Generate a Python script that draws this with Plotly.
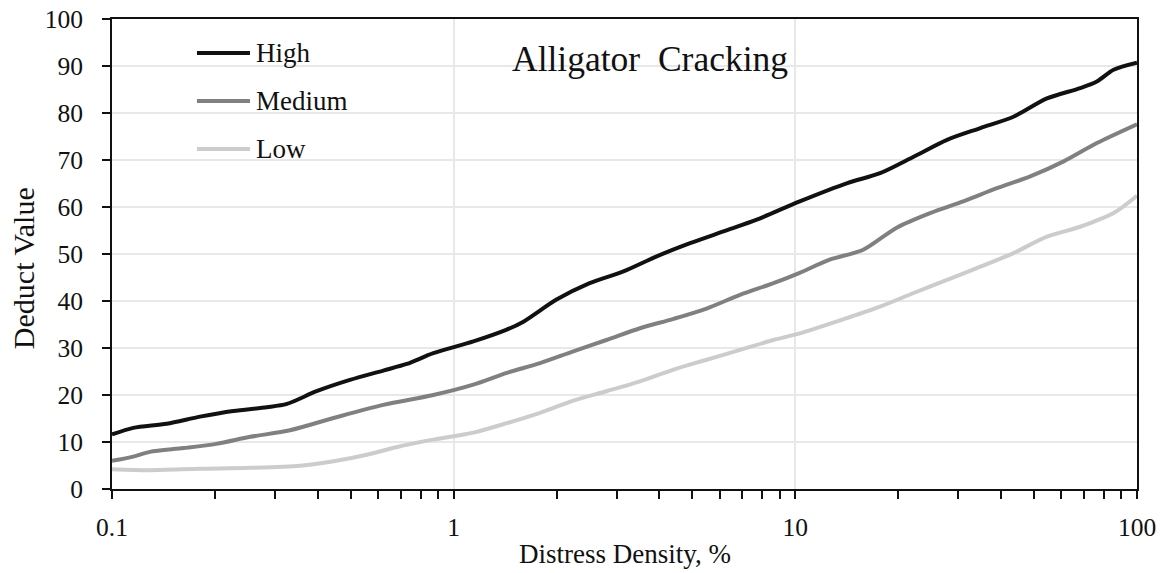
import plotly.graph_objects as go

# Distress density (%) and deduct values for each severity level
high_x = [0.1, 0.1154, 0.1446, 0.181, 0.2265, 0.284, 0.325, 0.397, 0.497, 0.622, 0.729, 0.872,
          1.142, 1.43, 1.6, 2.0, 2.5, 3.14, 3.93, 4.92, 6.16, 7.71, 10.3, 14.2,
          17.7, 22.2, 27.8, 34.8, 43.5, 54.5, 68.2, 76.3, 85.4, 100]
high_y = [11.6, 13.0, 13.9, 15.4, 16.6, 17.4, 18.1, 20.8, 23.2, 25.2, 26.6, 28.9,
          31.4, 33.9, 35.6, 40.3, 43.8, 46.3, 49.5, 52.3, 54.8, 57.3, 61.2, 65.1,
          67.2, 70.7, 74.3, 76.8, 79.2, 83.1, 85.3, 86.7, 89.2, 90.7]

medium_x = [0.1, 0.1154, 0.129, 0.162, 0.202, 0.254, 0.332, 0.445, 0.622, 0.872,
            1.142, 1.43, 1.79, 2.24, 2.8, 3.51, 4.4, 5.5, 6.89, 8.63, 10.3, 12.6, 15.8,
            19.8, 24.8, 31.0, 38.9, 48.7, 61.0, 76.3, 100]
medium_y = [6.0, 6.9, 7.9, 8.7, 9.6, 11.1, 12.5, 15.1, 17.9, 20.0,
            22.2, 24.7, 26.8, 29.3, 31.7, 34.2, 36.2, 38.4, 41.3, 43.8, 46.0, 48.8, 50.9,
            55.6, 58.7, 61.2, 64.0, 66.5, 69.7, 73.6, 77.6]

low_x = [0.1, 0.129, 0.181, 0.254, 0.355, 0.445, 0.557, 0.697, 0.872, 1.142, 1.43,
         1.79, 2.24, 2.8, 3.51, 4.4, 5.5, 6.89, 8.63, 10.3, 14.2, 17.7, 22.2, 27.8,
         34.8, 43.5, 54.5, 68.2, 85.4, 100]
low_y = [4.2, 4.0, 4.3, 4.5, 4.95, 5.9, 7.3, 9.1, 10.5, 12.0, 14.0,
         16.2, 18.8, 20.8, 22.9, 25.4, 27.5, 29.6, 31.7, 33.1, 36.4, 38.8, 41.7, 44.5,
         47.3, 50.2, 53.7, 55.8, 58.7, 62.4]

series_names = ["High", "Medium", "Low"]
series_colors = ["#111111", "#808080", "#cccccc"]

x_major = [0.1, 1, 10, 100]
x_major_text = ["0.1", "1", "10", "100"]
x_minor = [m * d for d in (0.1, 1, 10) for m in range(2, 10)]
y_ticks = list(range(0, 101, 10))

FONT = "Liberation Serif, Times New Roman, serif"
INK = "#111111"

fig = go.Figure()
for name, color, xs, ys in zip(series_names, series_colors,
                               [high_x, medium_x, low_x], [high_y, medium_y, low_y]):
    fig.add_trace(go.Scatter(x=xs, y=ys, mode="lines", name=name,
                             line=dict(color=color, width=4, shape="spline", smoothing=0.8)))

# Hand-placed legend: sample line plus label for each series
legend_y = [0.9277, 0.8255, 0.7234]
shapes = []
annotations = []
for name, color, ly in zip(series_names, series_colors, legend_y):
    shapes.append(dict(type="line", xref="paper", yref="paper", x0=0.0829, x1=0.1346,
                       y0=ly, y1=ly, line=dict(color=color, width=4)))
    annotations.append(dict(text=name, xref="paper", yref="paper", x=0.1385, y=ly,
                            xanchor="left", yanchor="middle", showarrow=False,
                            font=dict(family=FONT, size=27, color=INK)))

# Chart heading inside the plot area
annotations.append(dict(text="Alligator\u00a0 Cracking", xref="paper", yref="paper",
                        x=0.5249, y=0.915, xanchor="center", yanchor="middle",
                        showarrow=False, font=dict(family=FONT, size=35.5, color=INK)))

# Axis titles
annotations.append(dict(text="Distress Density, %", xref="paper", yref="paper",
                        x=0.5, y=-0.138, xanchor="center", yanchor="middle",
                        showarrow=False, font=dict(family=FONT, size=27, color=INK)))
annotations.append(dict(text="Deduct Value", xref="paper", yref="paper", textangle=-90,
                        x=-0.0868, y=0.47, xanchor="center", yanchor="middle",
                        showarrow=False, font=dict(family=FONT, size=30, color=INK)))

fig.update_layout(
    width=1166, height=573,
    margin=dict(l=112, r=29, t=19, b=84, autoexpand=False),
    paper_bgcolor="white", plot_bgcolor="white",
    showlegend=False,
    font=dict(family=FONT, size=25.5, color=INK),
    shapes=shapes, annotations=annotations,
)

fig.update_xaxes(
    type="log", range=[-1, 2], automargin=False,
    tickmode="array", tickvals=x_major, ticktext=x_major_text,
    ticks="outside", ticklen=8, tickwidth=2, tickcolor=INK,
    showline=True, linecolor=INK, linewidth=2, mirror=True,
    showgrid=True, gridcolor="#e8e8e8", gridwidth=2,
    minor=dict(tickmode="array", tickvals=x_minor, ticks="outside", ticklen=8,
               tickwidth=2, tickcolor=INK, showgrid=False),
    ticklabelstandoff=6,
    zeroline=False,
)
fig.update_yaxes(
    range=[0, 100], tickmode="array", tickvals=y_ticks, automargin=False,
    ticks="outside", ticklen=8, tickwidth=2, tickcolor=INK,
    showline=True, linecolor=INK, linewidth=2, mirror=True,
    showgrid=True, gridcolor="#e8e8e8", gridwidth=2,
    ticklabelstandoff=14,
    zeroline=False,
)

fig.write_html("out.html")
